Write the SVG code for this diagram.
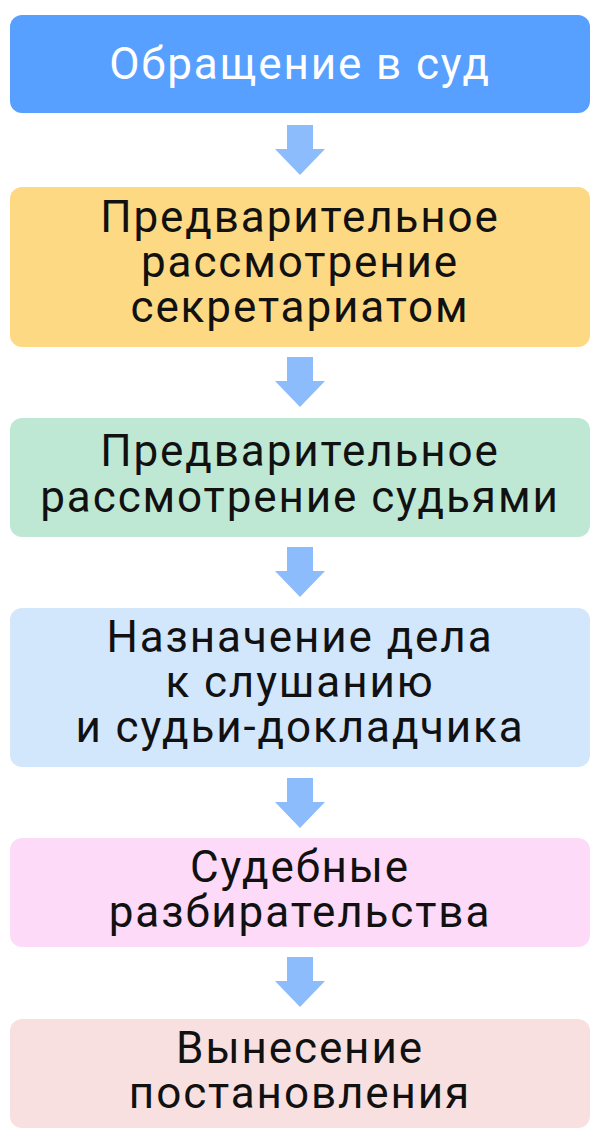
<svg xmlns="http://www.w3.org/2000/svg" width="600" height="1140" viewBox="0 0 600 1140">
<style>
text{font-family:Roboto,"Noto Sans",sans-serif;font-size:44px;letter-spacing:1.9px;text-anchor:middle;fill:#111}
.w{fill:#fff}
.a{fill:#8dbcfd}
</style>
<defs><path id="arr" class="a" d="M287 0H313V24H325L300 50L275 24H287Z"/></defs>
<rect width="600" height="1140" fill="#fff"/>
<g id="connectors">
<use href="#arr" y="125"/><use href="#arr" y="357"/><use href="#arr" y="547"/><use href="#arr" y="778"/><use href="#arr" y="957"/>
</g>
<g id="n1"><rect x="10" y="15" width="580" height="98" rx="12" fill="#58a0ff"/><text class="w" x="300" y="79">Обращение в суд</text></g>
<g id="n2"><rect x="10" y="187" width="580" height="160" rx="12" fill="#fdd983"/><text x="300" y="232">Предварительное</text><text x="300" y="277">рассмотрение</text><text x="300" y="322">секретариатом</text></g>
<g id="n3"><rect x="10" y="418" width="580" height="119" rx="12" fill="#bfe8d4"/><text x="300" y="466">Предварительное</text><text x="300" y="512">рассмотрение судьями</text></g>
<g id="n4"><rect x="10" y="608" width="580" height="159" rx="12" fill="#d2e6fc"/><text x="300" y="652">Назначение дела</text><text x="300" y="697">к слушанию</text><text x="300" y="742">и судьи-докладчика</text></g>
<g id="n5"><rect x="10" y="838" width="580" height="109" rx="12" fill="#fcdaf8"/><text x="300" y="882">Судебные</text><text x="300" y="927">разбирательства</text></g>
<g id="n6"><rect x="10" y="1019" width="580" height="109" rx="12" fill="#f8e0e0"/><text x="300" y="1063">Вынесение</text><text x="300" y="1108">постановления</text></g>
</svg>
